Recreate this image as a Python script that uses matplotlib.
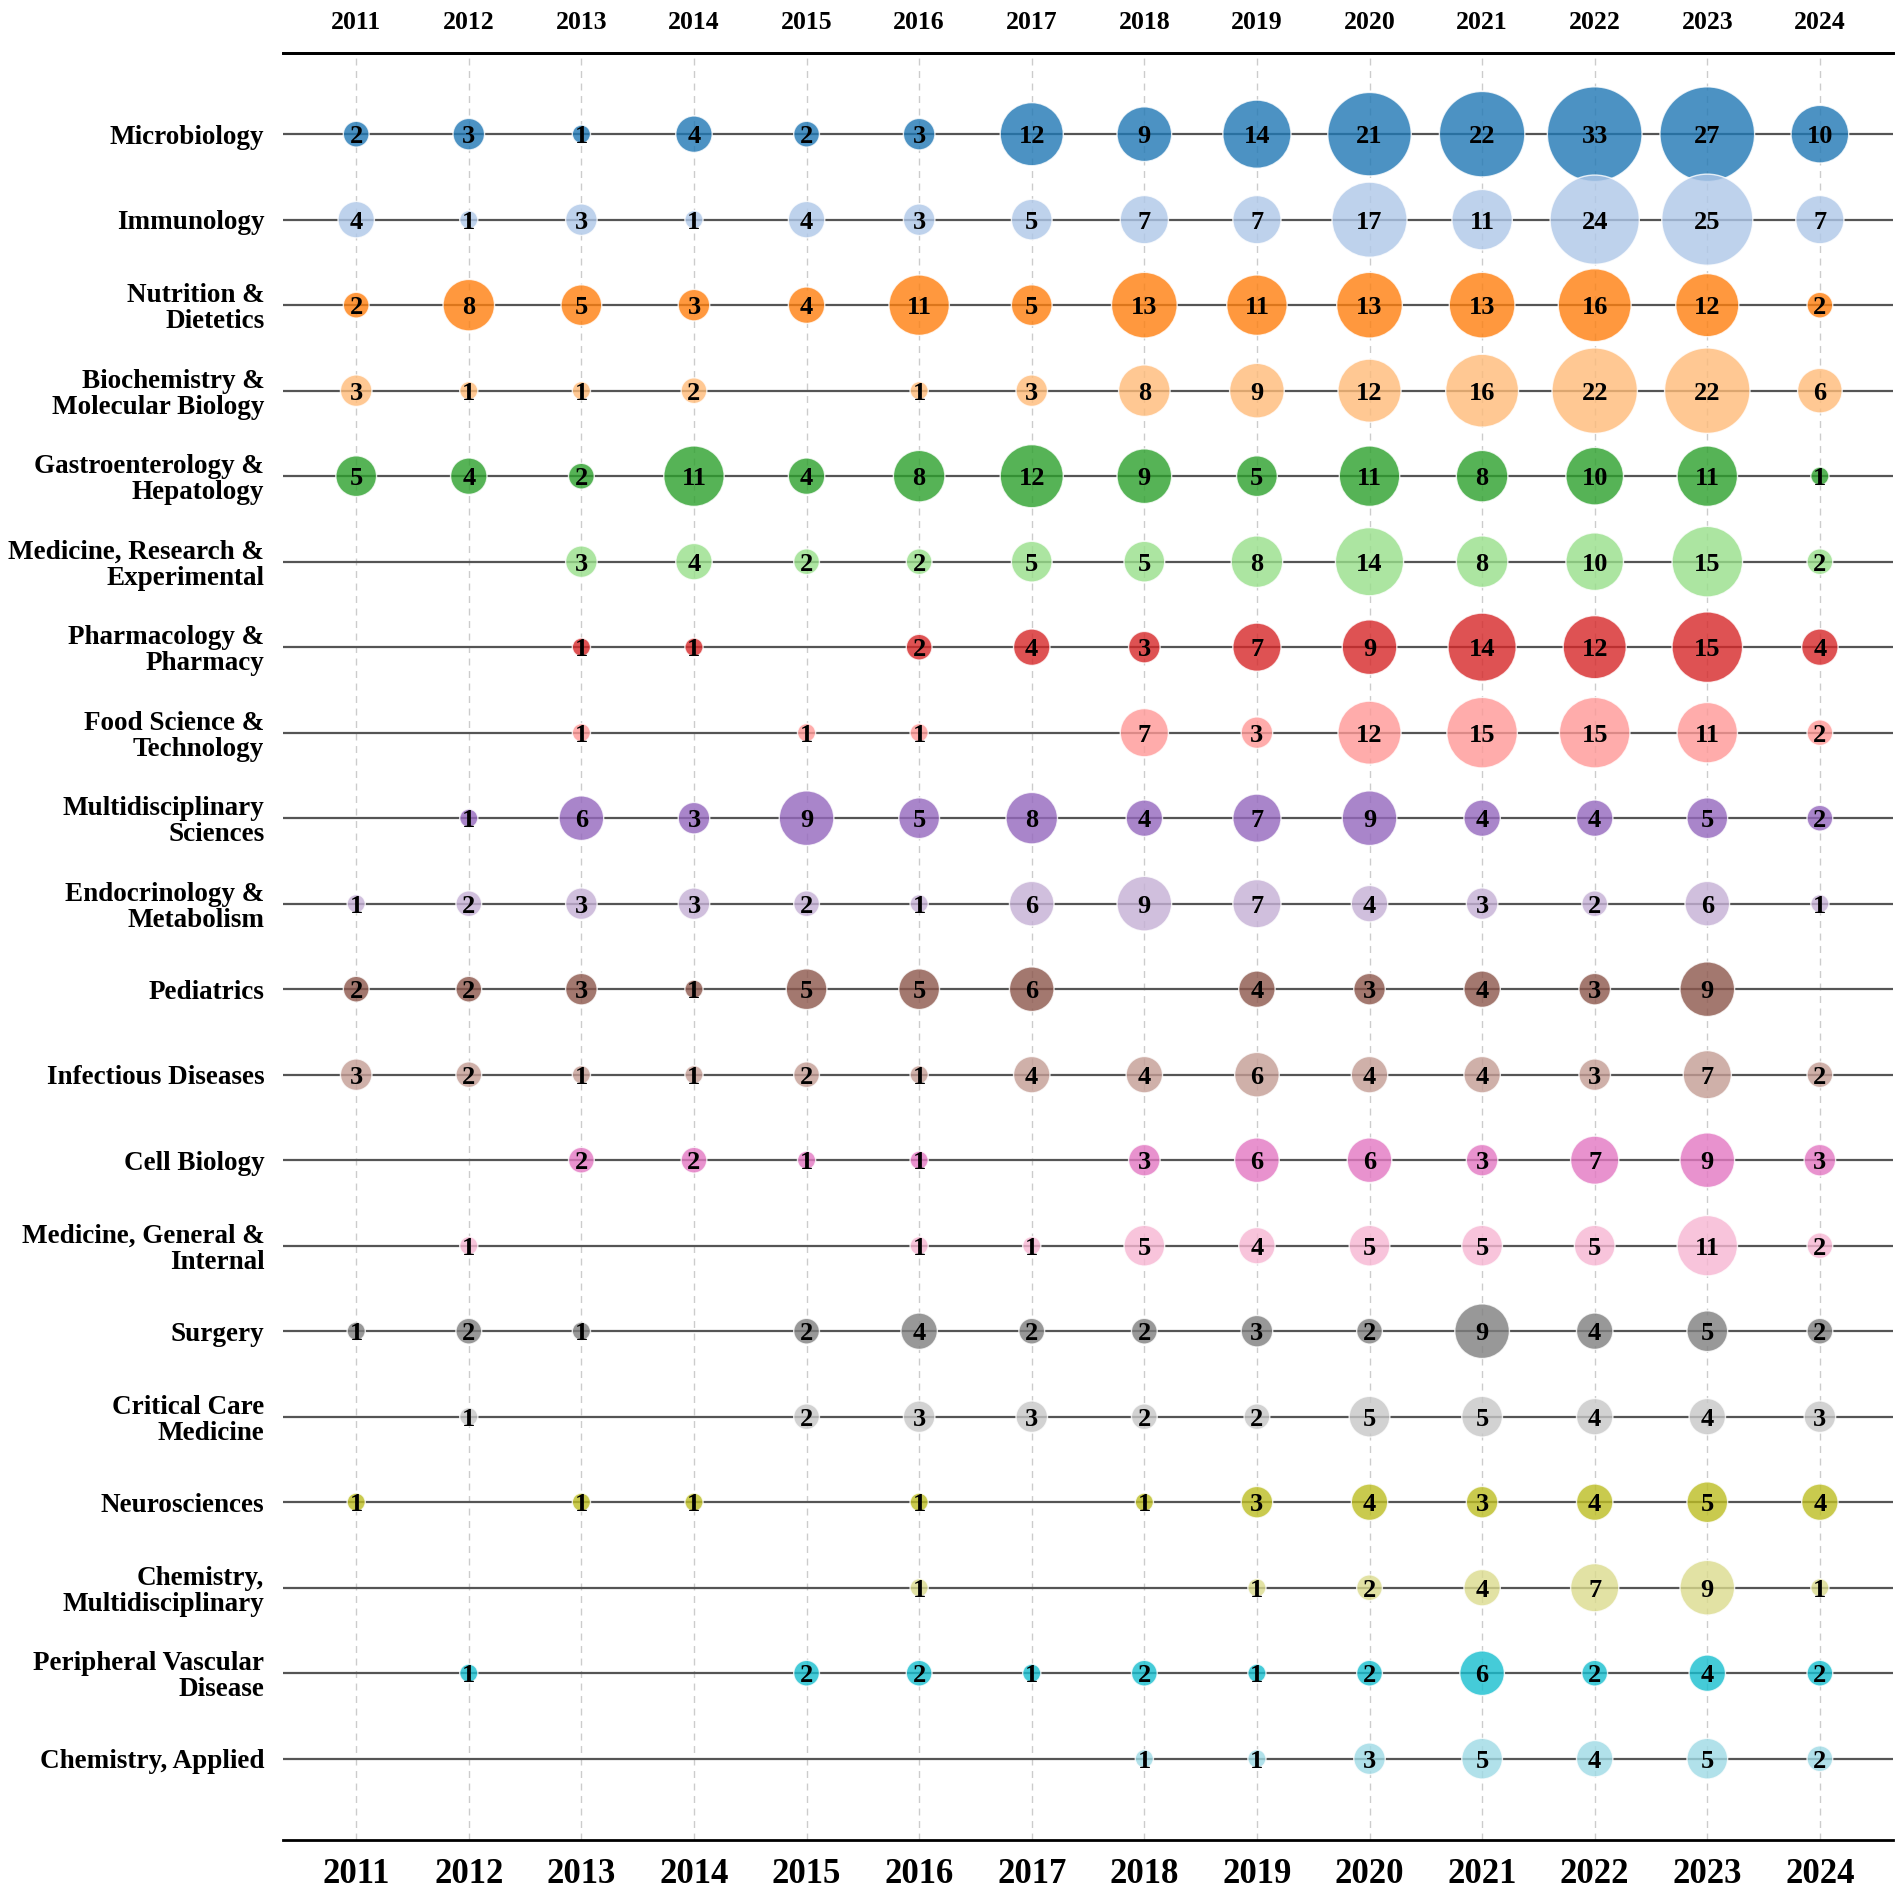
import numpy as np
import matplotlib
matplotlib.use("Agg")
import matplotlib.pyplot as plt

plt.rcParams['font.family'] = ['Liberation Serif', 'DejaVu Serif']
plt.rcParams['font.weight'] = 'bold'

years = list(range(2011, 2025))

categories = [
    'Microbiology',
    'Immunology',
    'Nutrition &\nDietetics',
    'Biochemistry &\nMolecular Biology',
    'Gastroenterology &\nHepatology',
    'Medicine, Research &\nExperimental',
    'Pharmacology &\nPharmacy',
    'Food Science &\nTechnology',
    'Multidisciplinary\nSciences',
    'Endocrinology &\nMetabolism',
    'Pediatrics',
    'Infectious Diseases',
    'Cell Biology',
    'Medicine, General &\nInternal',
    'Surgery',
    'Critical Care\nMedicine',
    'Neurosciences',
    'Chemistry,\nMultidisciplinary',
    'Peripheral Vascular\nDisease',
    'Chemistry, Applied',
]

# counts per year, 2011..2024 (0 = no paper)
microbiology = [2, 3, 1, 4, 2, 3, 12, 9, 14, 21, 22, 33, 27, 10]
immunology = [4, 1, 3, 1, 4, 3, 5, 7, 7, 17, 11, 24, 25, 7]
nutrition = [2, 8, 5, 3, 4, 11, 5, 13, 11, 13, 13, 16, 12, 2]
biochemistry = [3, 1, 1, 2, 0, 1, 3, 8, 9, 12, 16, 22, 22, 6]
gastro = [5, 4, 2, 11, 4, 8, 12, 9, 5, 11, 8, 10, 11, 1]
med_research = [0, 0, 3, 4, 2, 2, 5, 5, 8, 14, 8, 10, 15, 2]
pharmacology = [0, 0, 1, 1, 0, 2, 4, 3, 7, 9, 14, 12, 15, 4]
food_science = [0, 0, 1, 0, 1, 1, 0, 7, 3, 12, 15, 15, 11, 2]
multidisc = [0, 1, 6, 3, 9, 5, 8, 4, 7, 9, 4, 4, 5, 2]
endocrinology = [1, 2, 3, 3, 2, 1, 6, 9, 7, 4, 3, 2, 6, 1]
pediatrics = [2, 2, 3, 1, 5, 5, 6, 0, 4, 3, 4, 3, 9, 0]
infectious = [3, 2, 1, 1, 2, 1, 4, 4, 6, 4, 4, 3, 7, 2]
cell_biology = [0, 0, 2, 2, 1, 1, 0, 3, 6, 6, 3, 7, 9, 3]
med_general = [0, 1, 0, 0, 0, 1, 1, 5, 4, 5, 5, 5, 11, 2]
surgery = [1, 2, 1, 0, 2, 4, 2, 2, 3, 2, 9, 4, 5, 2]
critical_care = [0, 1, 0, 0, 2, 3, 3, 2, 2, 5, 5, 4, 4, 3]
neurosciences = [1, 0, 1, 1, 0, 1, 0, 1, 3, 4, 3, 4, 5, 4]
chem_multi = [0, 0, 0, 0, 0, 1, 0, 0, 1, 2, 4, 7, 9, 1]
peripheral = [0, 1, 0, 0, 2, 2, 1, 2, 1, 2, 6, 2, 4, 2]
chem_applied = [0, 0, 0, 0, 0, 0, 0, 1, 1, 3, 5, 4, 5, 2]

counts = [microbiology, immunology, nutrition, biochemistry, gastro,
          med_research, pharmacology, food_science, multidisc, endocrinology,
          pediatrics, infectious, cell_biology, med_general, surgery,
          critical_care, neurosciences, chem_multi, peripheral, chem_applied]

colors = plt.get_cmap('tab20').colors

fig = plt.figure(figsize=(19.02, 18.91), dpi=100)
ax = fig.add_axes([0.1488, 0.027, 0.8465, 0.945])

# grid of lines
for yr in years:
    ax.axvline(yr, color='#cccccc', lw=1, ls=(0, (5, 4)), zorder=0)
for i in range(len(categories)):
    ax.axhline(i, color='#555555', lw=1.6, zorder=1)

for i, row in enumerate(counts):
    row = np.array(row)
    mask = row > 0
    xs = np.array(years)[mask]
    vals = row[mask]
    ax.scatter(xs, np.full(len(xs), i), s=np.minimum(vals, 27) * 172,
               color=colors[i], alpha=0.8, edgecolor='white', linewidth=1,
               zorder=2)
    for x, v in zip(xs, vals):
        ax.text(x, i, str(v), ha='center', va='center_baseline',
                fontsize=19, fontweight='bold', zorder=3)

ax.set_xlim(2010.35, 2024.65)
ax.set_ylim(len(categories) - 1 + 0.95, -0.95)

ax.set_yticks(range(len(categories)))
ax.set_yticklabels(categories, fontsize=19.5, fontweight='bold', linespacing=1.05)
ax.set_xticks(years)
ax.set_xticklabels([str(y) for y in years], fontsize=25, fontweight='bold')
ax.tick_params(axis='both', length=0)
ax.tick_params(axis='y', pad=13.5)
ax.tick_params(axis='x', pad=13)

top = ax.secondary_xaxis('top')
top.set_xticks(years)
top.set_xticklabels([str(y) for y in years], fontsize=18.5, fontweight='bold')
top.tick_params(length=0, pad=14)
top.spines['top'].set_linewidth(2)

for side in ['left', 'right']:
    ax.spines[side].set_visible(False)
ax.spines['top'].set_linewidth(2)
ax.spines['bottom'].set_linewidth(2)

fig.savefig('out.png', dpi=100)
